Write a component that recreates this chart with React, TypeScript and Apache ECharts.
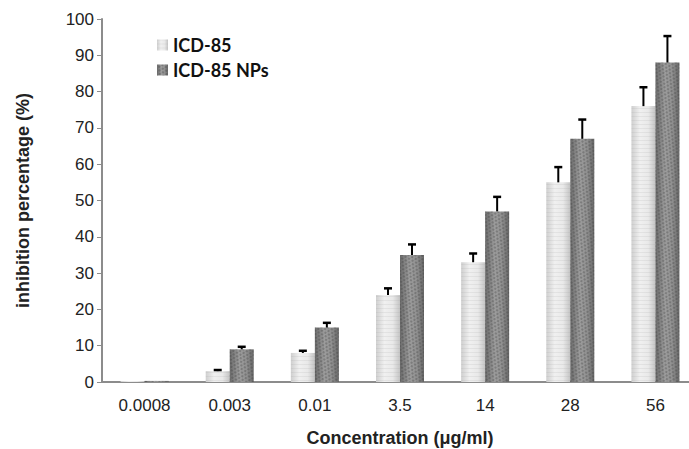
import React, { useEffect, useRef } from "react";
import * as echarts from "echarts";

const categories = ["0.0008", "0.003", "0.01", "3.5", "14", "28", "56"];
const icdValues = [0.3, 3, 8, 24, 33, 55, 76];
const npValues = [0.3, 9, 15, 35, 47, 67, 88];
const icdErr = [0, 0.3, 0.6, 1.8, 2.4, 4.2, 5.2];
const npErr = [0, 0.7, 1.3, 2.9, 4, 5.3, 7.3];
const yTicks = [0, 10, 20, 30, 40, 50, 60, 70, 80, 90, 100];

const BAR_W = 24;

export default function App() {
  const ref = useRef<HTMLDivElement>(null);
  useEffect(() => {
    if (!ref.current) return;
    const chart = echarts.init(ref.current, undefined, { renderer: "svg" });
    const lightFill = new echarts.graphic.LinearGradient(0, 0, 1, 0, [
      { offset: 0, color: "#cfcfcf" },
      { offset: 0.35, color: "#f0f0f0" },
      { offset: 0.7, color: "#e9e9e9" },
      { offset: 1, color: "#c4c4c4" },
    ]);
    const darkFill = new echarts.graphic.LinearGradient(0, 0, 1, 0, [
      { offset: 0, color: "#6a6a6a" },
      { offset: 0.4, color: "#9c9c9c" },
      { offset: 0.7, color: "#909090" },
      { offset: 1, color: "#666666" },
    ]);
    const errRender = (offset: number, vals: number[], errs: number[]) =>
      (params: any, api: any) => {
        const i = api.value(0);
        const top = api.coord([i, vals[i] + errs[i]]);
        const base = api.coord([i, vals[i]]);
        const x = top[0] + offset;
        if (errs[i] <= 0) return { type: "group", children: [] };
        return {
          type: "group",
          children: [
            {
              type: "line",
              shape: { x1: x, y1: base[1], x2: x, y2: top[1] },
              style: { stroke: "#000", lineWidth: 2 },
            },
            {
              type: "line",
              shape: { x1: x - 4, y1: top[1], x2: x + 4, y2: top[1] },
              style: { stroke: "#000", lineWidth: 2.5 },
            },
          ],
        };
      };
    chart.setOption({
      animation: false,
      backgroundColor: "#ffffff",
      grid: {
        left: 102,
        right: -9,
        top: 19,
        bottom: 67,
        containLabel: false,
        outerBoundsMode: "none",
      },
      legend: {
        orient: "vertical",
        left: 152,
        top: 31,
        itemWidth: 11,
        itemHeight: 11,
        itemGap: 7,
        icon: "rect",
        data: ["ICD-85", "ICD-85 NPs"],
        textStyle: {
          fontFamily: "Lato",
          fontWeight: "bold",
          fontSize: 18,
          color: "#111",
        },
      },
      xAxis: {
        type: "category",
        data: categories,
        name: "Concentration (μg/ml)",
        nameLocation: "middle",
        nameGap: 47,
        nameTextStyle: {
          fontFamily: "Liberation Sans",
          fontWeight: "bold",
          fontSize: 18,
          color: "#222",
        },
        axisLine: { lineStyle: { color: "#8c8c8c", width: 2 } },
        axisTick: { show: false },
        axisLabel: {
          fontFamily: "Liberation Sans",
          fontSize: 17,
          color: "#222",
          margin: 15,
        },
      },
      yAxis: {
        type: "value",
        min: 0,
        max: 100,
        interval: 10,
        name: "inhibition percentage (%)",
        nameLocation: "middle",
        nameGap: 70,
        nameTextStyle: {
          fontFamily: "Liberation Sans",
          fontWeight: "bold",
          fontSize: 18,
          color: "#222",
        },
        axisLine: { show: true, lineStyle: { color: "#8c8c8c", width: 2 } },
        axisTick: { show: true, length: 5, lineStyle: { color: "#8c8c8c" } },
        splitLine: { show: false },
        axisLabel: {
          fontFamily: "Liberation Sans",
          fontSize: 17,
          color: "#222",
          margin: 8,
          formatter: (v: number) => (yTicks.includes(v) ? String(v) : ""),
        },
      },
      series: [
        {
          name: "ICD-85",
          type: "bar",
          data: icdValues,
          barWidth: BAR_W,
          barGap: "0%",
          itemStyle: {
            color: lightFill,
            decal: {
              symbol: "rect",
              symbolSize: 1,
              color: "rgba(150,150,150,0.15)",
              dashArrayX: [[1, 0]],
              dashArrayY: [1, 3],
              rotation: 0,
            },
          },
        },
        {
          name: "ICD-85 NPs",
          type: "bar",
          data: npValues,
          barWidth: BAR_W,
          itemStyle: {
            color: darkFill,
            decal: {
              symbol: "circle",
              symbolSize: 0.8,
              color: "rgba(50,50,50,0.45)",
              dashArrayX: [[2, 2], [0, 2, 2, 0]],
              dashArrayY: [2, 1],
              rotation: 0.5,
            },
          },
        },
        {
          type: "custom",
          data: categories.map((_, i) => [i]),
          renderItem: errRender(-BAR_W / 2, icdValues, icdErr),
          z: 5,
          silent: true,
        },
        {
          type: "custom",
          data: categories.map((_, i) => [i]),
          renderItem: errRender(BAR_W / 2, npValues, npErr),
          z: 5,
          silent: true,
        },
      ],
    });
    return () => chart.dispose();
  }, []);
  return (
    <div
      ref={ref}
      style={{ position: "absolute", left: 0, top: 0, width: 689, height: 449 }}
    />
  );
}
